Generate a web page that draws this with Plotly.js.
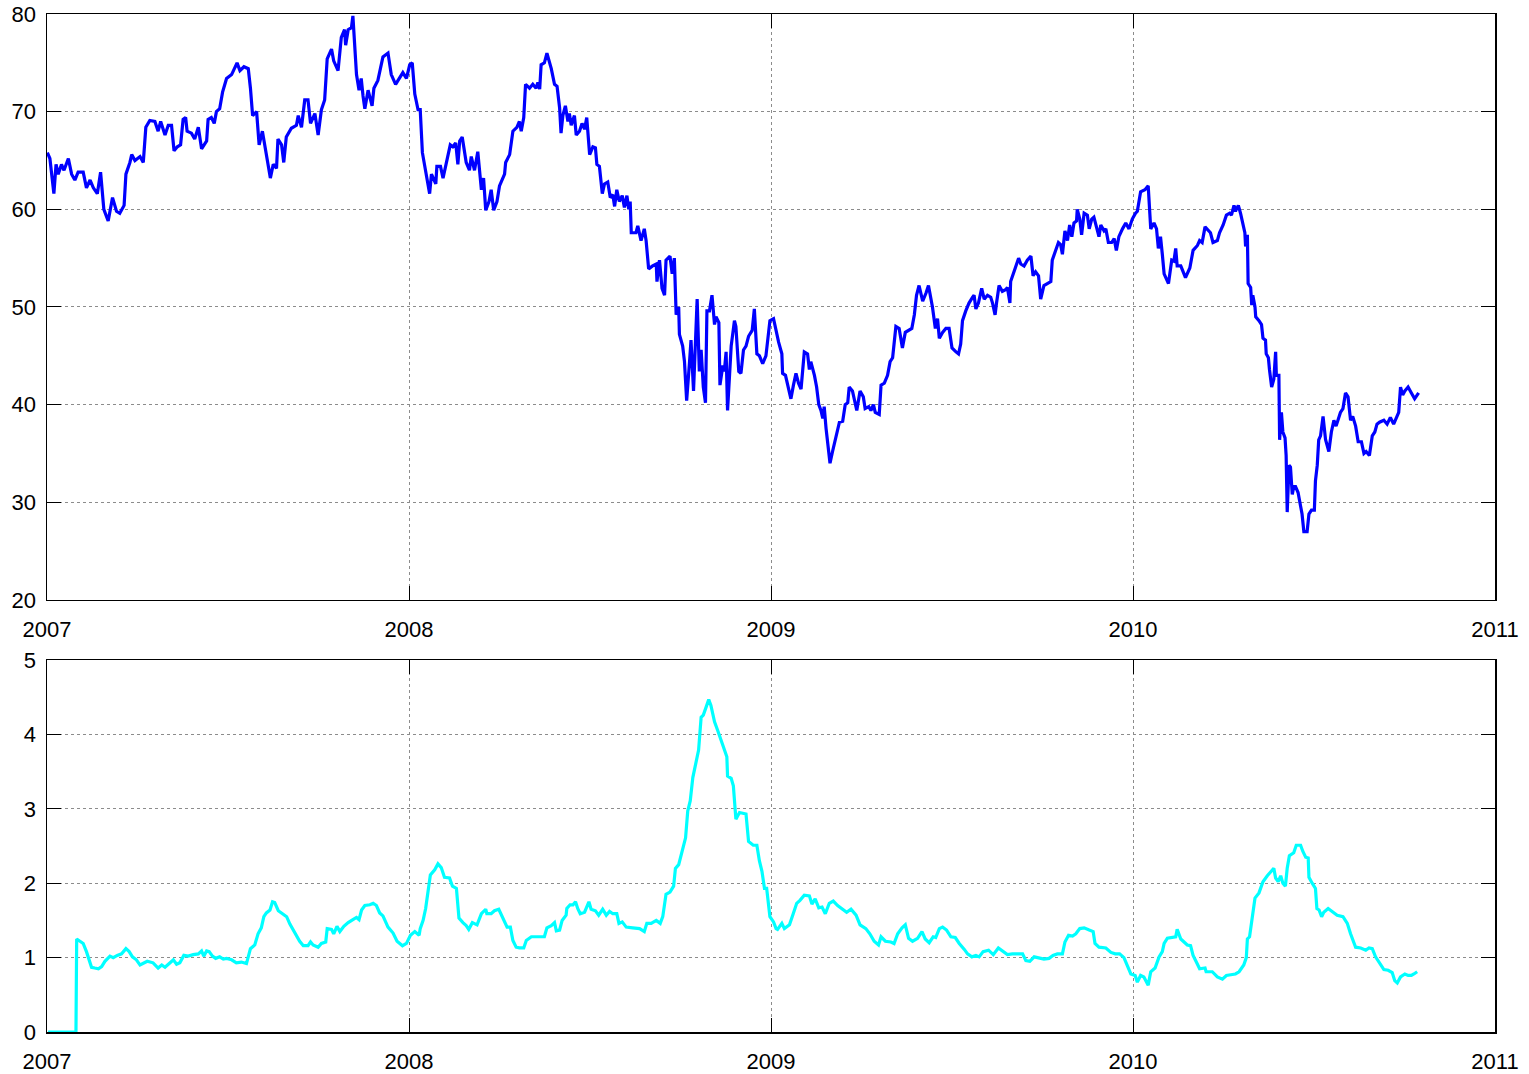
<!DOCTYPE html>
<html>
<head>
<meta charset="utf-8">
<script src="https://cdn.plot.ly/plotly-3.0.1.min.js"></script>
<style>
  html, body { margin: 0; padding: 0; background: #ffffff; }
  #chart { width: 1529px; height: 1074px; }
</style>
</head>
<body>
<div id="chart"></div>
<script>
// Time axis in fractional years, price series (top panel)
const priceYears = [
  2007.001,2007.008,2007.019,2007.025,2007.031,2007.040,2007.047,2007.059,2007.068,2007.077,
  2007.086,2007.100,2007.109,2007.119,2007.128,2007.139,2007.148,2007.157,2007.169,2007.181,
  2007.192,2007.201,2007.213,2007.218,2007.229,2007.234,2007.243,2007.257,2007.266,2007.273,
  2007.284,2007.298,2007.307,2007.314,2007.326,2007.335,2007.344,2007.351,2007.360,2007.369,
  2007.376,2007.383,2007.387,2007.399,2007.408,2007.418,2007.427,2007.441,2007.445,2007.454,
  2007.462,2007.468,2007.477,2007.485,2007.496,2007.510,2007.525,2007.533,2007.544,2007.556,
  2007.562,2007.568,2007.579,2007.586,2007.595,2007.606,2007.617,2007.625,2007.634,2007.638,
  2007.648,2007.654,2007.661,2007.675,2007.689,2007.694,2007.703,2007.712,2007.721,2007.728,
  2007.740,2007.749,2007.758,2007.767,2007.774,2007.786,2007.792,2007.804,2007.813,2007.822,
  2007.825,2007.832,2007.841,2007.845,2007.850,2007.855,2007.862,2007.868,2007.873,2007.878,
  2007.887,2007.898,2007.903,2007.914,2007.921,2007.928,2007.942,2007.951,2007.963,2007.983,
  2007.993,2008.002,
  2008.009,2008.016,2008.025,2008.031,2008.037,2008.043,2008.057,2008.062,2008.074,2008.077,
  2008.087,2008.094,2008.103,2008.114,2008.121,2008.129,2008.135,2008.140,2008.147,2008.158,
  2008.167,2008.172,2008.181,2008.190,2008.200,2008.206,2008.212,2008.221,2008.227,2008.234,
  2008.243,2008.250,2008.264,2008.267,2008.278,2008.287,2008.298,2008.305,2008.310,2008.317,
  2008.322,2008.333,2008.342,2008.351,2008.356,2008.361,2008.365,2008.374,2008.381,2008.393,
  2008.402,2008.409,2008.416,2008.420,2008.425,2008.432,2008.439,2008.443,2008.448,2008.457,
  2008.462,2008.471,2008.478,2008.485,2008.491,2008.499,2008.508,2008.515,2008.519,2008.526,
  2008.534,2008.540,2008.549,2008.556,2008.563,2008.568,2008.574,2008.581,2008.589,2008.595,
  2008.602,2008.607,2008.611,2008.614,2008.627,2008.632,2008.641,2008.650,2008.655,2008.662,
  2008.673,2008.683,2008.685,2008.692,2008.699,2008.706,2008.710,2008.721,2008.727,2008.733,
  2008.738,2008.745,2008.747,2008.756,2008.761,2008.767,2008.775,2008.779,2008.786,2008.791,
  2008.796,2008.802,2008.807,2008.813,2008.819,2008.823,2008.830,2008.837,2008.844,2008.848,
  2008.856,2008.859,2008.867,2008.871,2008.876,2008.880,2008.890,2008.899,2008.903,2008.911,
  2008.917,2008.924,2008.931,2008.938,2008.948,2008.954,2008.961,2008.968,2008.977,2008.986,
  2008.991,2008.997,2009.007,2009.018,
  2009.021,2009.030,2009.032,2009.040,2009.049,2009.055,2009.062,2009.069,2009.076,2009.083,
  2009.092,2009.101,2009.106,2009.110,2009.120,2009.126,2009.132,2009.138,2009.143,2009.147,
  2009.152,2009.163,2009.170,2009.189,2009.198,2009.205,2009.212,2009.216,2009.225,2009.237,
  2009.246,2009.255,2009.260,2009.270,2009.276,2009.283,2009.288,2009.299,2009.304,2009.313,
  2009.322,2009.329,2009.336,2009.340,2009.345,2009.354,2009.363,2009.371,2009.382,2009.389,
  2009.396,2009.402,2009.409,2009.419,2009.428,2009.435,2009.446,2009.454,2009.460,2009.465,
  2009.474,2009.483,2009.492,2009.500,2009.511,2009.518,2009.524,2009.529,2009.538,2009.547,
  2009.557,2009.561,2009.566,2009.573,2009.582,2009.589,2009.598,2009.607,2009.612,2009.619,
  2009.623,2009.630,2009.639,2009.649,2009.653,2009.660,2009.662,2009.672,2009.684,2009.690,
  2009.699,2009.708,2009.718,2009.724,2009.731,2009.739,2009.745,2009.754,2009.764,2009.773,
  2009.777,2009.787,2009.794,2009.800,2009.805,2009.812,2009.819,2009.825,2009.831,2009.837,
  2009.844,2009.846,2009.853,2009.858,2009.865,2009.874,2009.879,2009.886,2009.892,2009.899,
  2009.906,2009.911,2009.920,2009.925,2009.932,2009.941,2009.948,2009.954,2009.961,2009.971,
  2009.980,2009.989,2009.998,2010.007,
  2010.012,2010.021,2010.033,2010.042,2010.049,2010.058,2010.065,2010.070,2010.076,2010.081,
  2010.086,2010.098,2010.107,2010.113,2010.118,2010.122,2010.132,2010.145,2010.157,2010.166,
  2010.178,2010.184,2010.191,2010.199,2010.208,2010.214,2010.221,2010.233,2010.239,2010.249,
  2010.258,2010.267,2010.272,2010.279,2010.283,2010.291,2010.297,2010.304,2010.309,2010.311,
  2010.316,2010.318,2010.325,2010.328,2010.331,2010.337,2010.339,2010.348,2010.355,2010.359,
  2010.366,2010.368,2010.374,2010.377,2010.383,2010.389,2010.394,2010.396,2010.403,2010.405,
  2010.410,2010.414,2010.420,2010.423,2010.426,2010.431,2010.435,2010.440,2010.444,2010.449,
  2010.456,2010.463,2010.467,2010.472,2010.481,2010.486,2010.493,2010.501,2010.504,2010.509,
  2010.513,2010.518,2010.525,2010.532,2010.541,2010.548,2010.555,2010.561,2010.567,2010.573,
  2010.580,2010.587,2010.594,2010.601,2010.607,2010.615,2010.622,2010.631,2010.638,2010.644,
  2010.653,2010.661,2010.668,2010.674,2010.681,2010.693,2010.702,2010.711,2010.720,2010.734,
  2010.739,2010.745,2010.751,2010.760,2010.769,2010.778,2010.789
];
const priceValues = [
  65.8,65.2,61.6,64.6,63.6,64.6,64.0,65.2,63.6,63.0,
  63.8,63.8,62.2,63.0,62.2,61.6,63.8,60.0,58.8,61.2,
  59.8,59.6,60.4,63.6,64.8,65.6,65.0,65.4,64.8,68.4,
  69.1,69.0,68.0,69.0,67.6,68.6,68.6,66.0,66.4,66.6,
  69.2,69.4,68.0,67.8,67.2,68.4,66.2,67.0,69.2,69.4,
  68.8,70.0,70.3,72.0,73.4,73.8,75.0,74.2,74.6,74.4,
  72.4,69.6,70.0,66.6,68.0,65.4,63.2,64.6,64.2,67.2,
  66.6,64.8,67.4,68.3,68.6,69.6,68.4,71.2,71.2,68.8,
  69.8,67.6,70.2,71.2,75.4,76.4,75.2,74.2,77.6,78.4,
  76.8,78.4,78.6,79.8,77.0,73.8,72.2,73.4,71.6,70.3,
  72.2,70.6,72.4,73.2,74.4,75.6,76.0,73.8,72.8,74.0,
  73.4,74.8,
  75.0,71.8,70.2,70.2,65.8,64.6,61.6,63.6,62.6,64.4,
  64.4,63.2,64.8,66.6,66.4,66.8,64.6,67.0,67.4,64.8,
  64.0,65.4,64.0,65.9,62.0,63.2,59.9,60.8,62.0,59.9,
  60.8,62.4,63.6,64.8,65.6,68.0,68.4,69.0,68.0,69.4,
  72.8,72.4,72.8,72.4,73.0,72.3,74.8,75.0,76.0,74.4,
  72.8,72.6,70.4,67.8,69.6,70.6,69.0,69.8,68.6,69.6,
  67.6,68.0,68.8,68.2,69.4,65.6,66.4,66.3,64.6,64.4,
  61.6,62.6,62.8,61.2,61.5,60.3,62.0,60.8,61.4,60.2,
  61.4,60.0,60.8,57.6,57.6,58.3,56.8,58.0,56.8,53.9,
  54.2,54.4,52.6,54.8,51.9,51.2,54.8,55.2,53.4,55.0,
  49.2,50.0,47.2,46.0,44.4,40.4,44.4,46.6,41.4,46.0,
  50.8,43.4,45.6,41.8,40.2,49.6,49.6,51.2,48.2,49.0,
  48.4,42.0,44.0,43.4,45.4,39.4,46.0,48.6,48.0,43.4,
  43.2,45.6,46.0,47.0,47.6,49.8,45.2,45.0,44.2,45.0,
  46.8,48.6,48.8,46.8,
  46.4,45.2,43.2,43.0,41.4,40.6,42.0,43.2,42.2,41.6,
  45.4,45.2,43.6,44.4,43.0,41.8,40.0,39.4,38.6,39.8,
  37.6,34.0,35.2,38.2,38.3,40.0,40.2,41.8,41.4,39.4,
  41.4,40.8,39.6,39.8,39.4,40.0,39.2,39.0,42.0,42.2,
  43.0,44.4,44.8,46.0,48.0,47.8,45.8,47.4,47.6,47.8,
  49.2,51.2,52.2,50.6,51.4,52.2,50.0,47.8,48.8,46.8,
  47.4,47.8,47.8,45.8,45.4,45.2,46.2,48.6,49.6,50.4,
  51.0,51.2,49.8,50.4,51.9,50.8,51.2,51.0,50.4,49.2,
  50.4,52.2,51.6,51.8,52.0,50.4,52.6,53.6,55.0,54.4,
  54.2,54.8,55.2,53.2,53.6,53.2,50.8,52.2,52.4,52.6,
  54.8,56.0,56.6,56.4,55.4,57.8,56.8,58.4,57.2,58.6,
  58.8,60.0,59.0,57.4,59.6,59.4,58.0,59.0,59.2,58.2,
  57.2,58.4,57.8,58.0,56.6,56.6,57.0,55.8,57.2,58.0,
  58.6,58.0,59.0,59.6,
  59.8,61.8,62.0,62.4,58.0,58.6,58.0,56.0,57.2,55.4,
  53.4,52.4,54.8,54.7,56.0,54.2,54.2,53.0,54.0,55.8,
  56.3,56.8,56.6,58.2,57.8,57.6,56.6,56.8,57.6,58.4,
  59.4,59.6,59.4,60.4,59.8,60.4,59.6,58.4,57.6,56.2,
  57.4,52.4,52.0,50.2,51.2,50.0,49.0,48.6,48.2,46.8,
  46.6,45.2,44.8,43.6,41.8,42.6,45.4,43.0,43.0,36.4,
  39.2,37.2,36.6,34.8,29.0,33.8,33.6,30.8,31.6,31.6,
  31.0,29.6,28.8,27.0,27.0,28.8,29.2,29.2,32.2,33.8,
  36.4,36.8,38.8,36.4,35.2,37.2,38.4,37.8,38.4,39.2,
  39.6,41.2,40.8,38.4,38.8,37.8,36.2,36.2,35.0,35.2,
  34.8,36.8,37.2,38.0,38.2,38.4,38.0,38.7,38.0,39.2,
  41.8,41.0,41.4,41.8,41.2,40.6,41.2
];

// Volatility series (bottom panel)
const volYears = [
  2007.003,2007.080,2007.082,2007.091,2007.100,2007.109,2007.123,2007.132,2007.142,2007.151,
  2007.160,2007.174,2007.183,2007.194,2007.206,2007.218,2007.227,2007.236,2007.247,2007.257,
  2007.268,2007.277,2007.293,2007.307,2007.317,2007.326,2007.340,2007.349,2007.358,2007.367,
  2007.378,2007.390,2007.404,2007.418,2007.427,2007.433,2007.441,2007.448,2007.457,2007.466,
  2007.477,2007.487,2007.496,2007.510,2007.523,2007.537,2007.551,2007.562,2007.574,2007.583,
  2007.592,2007.599,2007.606,2007.616,2007.623,2007.629,2007.639,2007.648,2007.662,2007.671,
  2007.685,2007.698,2007.708,2007.721,2007.728,2007.735,2007.749,2007.758,2007.770,2007.774,
  2007.786,2007.792,2007.801,2007.809,2007.820,2007.832,2007.845,2007.855,2007.862,2007.869,
  2007.878,2007.892,2007.901,2007.910,2007.919,2007.928,2007.942,2007.956,2007.967,2007.982,
  2007.993,2008.004,2008.016,2008.028,
  2008.031,2008.039,2008.046,2008.052,2008.059,2008.071,2008.080,2008.089,2008.098,2008.112,
  2008.120,2008.131,2008.138,2008.149,2008.158,2008.165,2008.175,2008.188,2008.200,2008.212,
  2008.215,2008.227,2008.236,2008.248,2008.259,2008.271,2008.280,2008.287,2008.296,2008.305,
  2008.317,2008.324,2008.338,2008.374,2008.381,2008.393,2008.402,2008.407,2008.416,2008.423,
  2008.434,2008.436,2008.445,2008.453,2008.460,2008.466,2008.473,2008.485,2008.497,2008.503,
  2008.515,2008.524,2008.535,2008.545,2008.554,2008.563,2008.574,2008.580,2008.589,2008.600,
  2008.618,2008.637,2008.650,2008.657,2008.669,2008.683,2008.694,2008.701,2008.710,2008.721,
  2008.731,2008.736,2008.745,2008.754,2008.764,2008.770,2008.777,2008.784,2008.791,2008.800,
  2008.807,2008.813,2008.821,2008.828,2008.834,2008.844,2008.853,2008.862,2008.871,2008.878,
  2008.880,2008.890,2008.896,2008.903,2008.913,2008.931,2008.938,2008.951,2008.961,2008.968,
  2008.975,2008.982,2008.988,2008.997,2009.007,2009.014,
  2009.018,2009.030,2009.037,2009.051,2009.060,2009.071,2009.080,2009.092,2009.106,2009.113,
  2009.122,2009.132,2009.141,2009.150,2009.161,2009.172,2009.184,2009.198,2009.209,2009.221,
  2009.235,2009.246,2009.262,2009.273,2009.285,2009.297,2009.304,2009.316,2009.331,2009.340,
  2009.350,2009.362,2009.371,2009.380,2009.391,2009.405,2009.417,2009.426,2009.437,2009.448,
  2009.455,2009.465,2009.474,2009.485,2009.497,2009.509,2009.520,2009.534,2009.543,2009.555,
  2009.566,2009.575,2009.586,2009.601,2009.614,2009.628,2009.644,2009.653,2009.667,2009.681,
  2009.695,2009.704,2009.715,2009.727,2009.741,2009.754,2009.768,2009.779,2009.791,2009.805,
  2009.812,2009.822,2009.833,2009.842,2009.853,2009.865,2009.879,2009.890,2009.895,2009.906,
  2009.925,2009.939,2009.951,2009.963,2009.975,2009.985,2009.994,2010.006,
  2010.012,2010.021,2010.030,2010.042,2010.049,2010.061,2010.072,2010.081,2010.086,2010.095,
  2010.111,2010.118,2010.122,2010.132,2010.141,2010.150,2010.159,2010.166,2010.175,2010.184,
  2010.199,2010.202,2010.219,2010.233,2010.247,2010.258,2010.270,2010.283,2010.293,2010.306,
  2010.313,2010.316,2010.322,2010.329,2010.337,2010.348,2010.359,2010.371,2010.383,2010.389,
  2010.394,2010.401,2010.408,2010.414,2010.421,2010.426,2010.432,2010.444,2010.451,2010.463,
  2010.469,2010.477,2010.484,2010.486,2010.495,2010.504,2010.508,2010.514,2010.521,2010.527,
  2010.539,2010.550,2010.564,2010.580,2010.592,2010.601,2010.615,2010.629,2010.643,2010.652,
  2010.661,2010.670,2010.681,2010.693,2010.705,2010.716,2010.723,2010.730,2010.739,2010.751,
  2010.760,2010.769,2010.776,2010.785
];
const volValues = [
  0.00,0.00,1.25,1.22,1.19,1.08,0.87,0.86,0.85,0.88,
  0.95,1.02,1.00,1.03,1.05,1.12,1.08,1.01,0.97,0.90,
  0.93,0.95,0.93,0.86,0.90,0.87,0.93,0.97,0.91,0.93,
  1.03,1.02,1.04,1.05,1.09,1.02,1.09,1.08,1.02,0.99,
  1.01,0.98,0.99,0.97,0.93,0.94,0.92,1.12,1.17,1.32,
  1.40,1.55,1.60,1.64,1.75,1.74,1.63,1.60,1.55,1.45,
  1.32,1.22,1.16,1.16,1.21,1.17,1.14,1.19,1.21,1.39,
  1.38,1.32,1.42,1.35,1.42,1.47,1.51,1.54,1.51,1.64,
  1.70,1.71,1.73,1.70,1.60,1.56,1.41,1.33,1.22,1.16,
  1.19,1.30,1.35,1.30,
  1.39,1.50,1.66,1.84,2.11,2.18,2.26,2.21,2.08,2.07,
  1.96,1.93,1.53,1.47,1.43,1.38,1.47,1.44,1.59,1.65,
  1.59,1.59,1.63,1.65,1.53,1.41,1.41,1.23,1.14,1.13,
  1.13,1.23,1.28,1.28,1.40,1.43,1.47,1.36,1.37,1.50,
  1.57,1.66,1.71,1.71,1.75,1.66,1.59,1.61,1.75,1.65,
  1.63,1.57,1.65,1.57,1.62,1.59,1.59,1.46,1.48,1.41,
  1.40,1.39,1.35,1.46,1.46,1.50,1.46,1.55,1.85,1.88,
  1.96,2.20,2.25,2.43,2.61,2.97,3.11,3.42,3.60,3.79,
  4.23,4.26,4.37,4.47,4.39,4.17,4.05,3.93,3.78,3.70,
  3.44,3.41,3.31,2.86,2.95,2.93,2.56,2.51,2.51,2.30,
  2.16,1.93,1.93,1.55,1.48,1.39,
  1.38,1.46,1.39,1.44,1.57,1.73,1.77,1.84,1.83,1.72,
  1.79,1.67,1.68,1.59,1.73,1.76,1.70,1.65,1.61,1.65,
  1.57,1.44,1.39,1.32,1.22,1.17,1.28,1.22,1.21,1.19,
  1.32,1.40,1.44,1.26,1.22,1.26,1.35,1.25,1.20,1.28,
  1.27,1.39,1.41,1.37,1.28,1.27,1.19,1.11,1.05,1.01,
  1.03,1.01,1.08,1.10,1.04,1.13,1.08,1.04,1.05,1.05,
  1.05,0.96,0.95,1.01,1.00,0.98,0.99,1.03,1.05,1.05,
  1.21,1.30,1.29,1.32,1.39,1.40,1.37,1.35,1.19,1.14,
  1.13,1.07,1.05,1.05,1.00,0.87,0.78,0.76,
  0.67,0.76,0.74,0.63,0.81,0.86,1.01,1.08,1.19,1.26,
  1.27,1.28,1.38,1.25,1.21,1.17,1.16,1.03,0.94,0.85,
  0.86,0.81,0.81,0.74,0.71,0.76,0.77,0.78,0.81,0.90,
  1.00,1.25,1.28,1.53,1.80,1.87,2.02,2.10,2.16,2.20,
  2.07,2.02,2.10,2.00,1.96,2.20,2.37,2.41,2.51,2.51,
  2.43,2.35,2.34,2.08,2.00,1.93,1.66,1.64,1.55,1.61,
  1.66,1.62,1.57,1.55,1.46,1.32,1.14,1.13,1.10,1.13,
  1.12,1.01,0.92,0.84,0.83,0.80,0.69,0.66,0.74,0.78,
  0.76,0.76,0.78,0.81
];

const yearTicks = [2007, 2008, 2009, 2010, 2011];
const yearLabels = ['2007', '2008', '2009', '2010', '2011'];
const priceTicks = [20, 30, 40, 50, 60, 70, 80];
const volTicks = [0, 1, 2, 3, 4, 5];

const tickFont = { family: 'Liberation Sans, Arial, Helvetica, sans-serif', size: 22, color: '#000000' };

// Boxed axes with inward ticks on all four sides and dotted grid
function frameAxis(extra) {
  return Object.assign({
    showline: true,
    linecolor: '#000000',
    linewidth: 1.5,
    mirror: 'ticks',
    ticks: 'inside',
    ticklen: 14,
    tickwidth: 1,
    tickcolor: '#000000',
    showgrid: true,
    gridcolor: '#8c8c8c',
    griddash: 'dot',
    gridwidth: 1,
    zeroline: false,
    tickfont: tickFont,
    fixedrange: true
  }, extra);
}

const traces = [
  {
    x: priceYears, y: priceValues,
    type: 'scatter', mode: 'lines',
    line: { color: '#0000ff', width: 3.2 },
    xaxis: 'x', yaxis: 'y',
    hoverinfo: 'skip'
  },
  {
    x: volYears, y: volValues,
    type: 'scatter', mode: 'lines',
    line: { color: '#00ffff', width: 3.2 },
    xaxis: 'x2', yaxis: 'y2',
    hoverinfo: 'skip'
  }
];

const layout = {
  width: 1529,
  height: 1074,
  margin: { l: 47, r: 34, t: 14, b: 42 },
  paper_bgcolor: '#ffffff',
  plot_bgcolor: '#ffffff',
  showlegend: false,
  xaxis: frameAxis({
    domain: [0, 1], anchor: 'y', range: [2007, 2011],
    tickmode: 'array', tickvals: yearTicks, ticktext: yearLabels,
    ticklabelstandoff: 9
  }),
  yaxis: frameAxis({
    domain: [0.4244, 1], anchor: 'x', range: [20, 80],
    tickmode: 'array', tickvals: priceTicks,
    ticklabelstandoff: 5
  }),
  xaxis2: frameAxis({
    domain: [0, 1], anchor: 'y2', range: [2007, 2011],
    tickmode: 'array', tickvals: yearTicks, ticktext: yearLabels,
    ticklabelstandoff: 9
  }),
  yaxis2: frameAxis({
    domain: [0, 0.3654], anchor: 'x2', range: [0, 5],
    tickmode: 'array', tickvals: volTicks,
    ticklabelstandoff: 5
  })
};

Plotly.newPlot('chart', traces, layout, { displayModeBar: false, staticPlot: true });
</script>
</body>
</html>
